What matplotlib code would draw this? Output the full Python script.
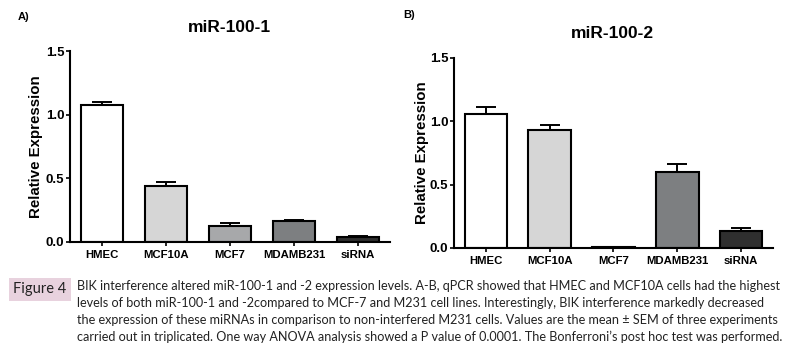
import matplotlib

matplotlib.use("Agg")
import matplotlib.pyplot as plt
import numpy as np

plt.rcParams["font.family"] = ["Liberation Sans", "DejaVu Sans"]

cell_lines = ["HMEC", "MCF10A", "MCF7", "MDAMB231", "siRNA"]
bar_colors = ["#ffffff", "#d6d6d6", "#a7a8aa", "#7d7f81", "#2f2f2f"]

mir1_mean = [1.077, 0.442, 0.128, 0.162, 0.039]
mir1_sem = [0.026, 0.028, 0.021, 0.010, 0.008]

mir2_mean = [1.060, 0.934, 0.005, 0.598, 0.131]
mir2_sem = [0.057, 0.036, 0.002, 0.063, 0.029]

yticks = [0.0, 0.5, 1.0, 1.5]

caption_lines = [
    "BIK interference altered miR-100-1 and -2 expression levels. A-B, qPCR showed that HMEC and MCF10A cells had the highest",
    "levels of both miR-100-1 and -2compared to MCF-7 and M231 cell lines. Interestingly, BIK interference markedly decreased",
    "the expression of these miRNAs in comparison to non-interfered M231 cells. Values are the mean \u00b1 SEM of three experiments",
    "carried out in triplicated. One way ANOVA analysis showed a P value of 0.0001. The Bonferroni\u2019s post hoc test was performed.",
]
caption_font = ["Lato", "DejaVu Sans"]

W, H = 789, 346
fig = plt.figure(figsize=(W / 100, H / 100), dpi=100, facecolor="white")


def panel(rect, means, sems, labelpad):
    ax = fig.add_axes(rect)
    x = np.arange(len(cell_lines))
    ax.bar(x, means, width=0.67, color=bar_colors, edgecolor="black", linewidth=1.5, zorder=2)
    ax.errorbar(
        x,
        means,
        yerr=[np.zeros(len(means)), sems],
        fmt="none",
        ecolor="black",
        elinewidth=1.4,
        capsize=7.5,
        capthick=1.4,
        zorder=3,
    )
    ax.set_xlim(-0.5, 4.5)
    ax.set_ylim(0, 1.5)
    ax.set_yticks(yticks)
    ax.set_yticklabels([f"{t:.1f}" for t in yticks], fontsize=9.5, fontweight="bold")
    ax.set_xticks(x)
    ax.set_xticklabels(cell_lines, fontsize=8.2, fontweight="bold")
    ax.tick_params(axis="y", length=3, width=1.2, pad=1)
    ax.tick_params(axis="x", length=3, width=1.2, pad=3)
    for side in ("top", "right"):
        ax.spines[side].set_visible(False)
    for side in ("left", "bottom"):
        ax.spines[side].set_linewidth(1.5)
    ax.set_ylabel("Relative Expression", fontsize=10.8, fontweight="bold", labelpad=labelpad)
    return ax


axA = panel([70 / W, 1 - 242 / H, 320 / W, 191 / H], mir1_mean, mir1_sem, 2)
axB = panel([454 / W, 1 - 248 / H, 319 / W, 190 / H], mir2_mean, mir2_sem, 0.5)

fig.text(229 / W, 1 - 27 / H, "miR-100-1", ha="center", va="center", fontsize=12.5, fontweight="bold")
fig.text(612 / W, 1 - 33 / H, "miR-100-2", ha="center", va="center", fontsize=12.5, fontweight="bold")
fig.text(18 / W, 1 - 17 / H, "A)", ha="left", va="center", fontsize=8, fontweight="bold")
fig.text(403 / W, 1 - 15 / H, "B)", ha="left", va="center", fontsize=8, fontweight="bold")

# caption
fig.text(
    40 / W,
    1 - 289.5 / H,
    "Figure 4",
    ha="center",
    va="center",
    fontsize=10.5,
    family=caption_font,
    color="#222222",
    bbox=dict(boxstyle="square,pad=0.3", facecolor="#e8d2de", edgecolor="none"),
)
cap_texts = []
for i, line in enumerate(caption_lines):
    t = fig.text(
        77 / W,
        1 - (286 + 17 * i) / H,
        line,
        ha="left",
        va="center",
        fontsize=10,
        family=caption_font,
        color="#222222",
    )
    cap_texts.append(t)

# shrink caption so the longest line spans the same width as in the figure
renderer = fig.canvas.get_renderer()
widest = max(t.get_window_extent(renderer).width for t in cap_texts)
size = 10 * 707 / widest
for t in cap_texts:
    t.set_fontsize(size)

fig.savefig("out.png", dpi=100, facecolor="white")
